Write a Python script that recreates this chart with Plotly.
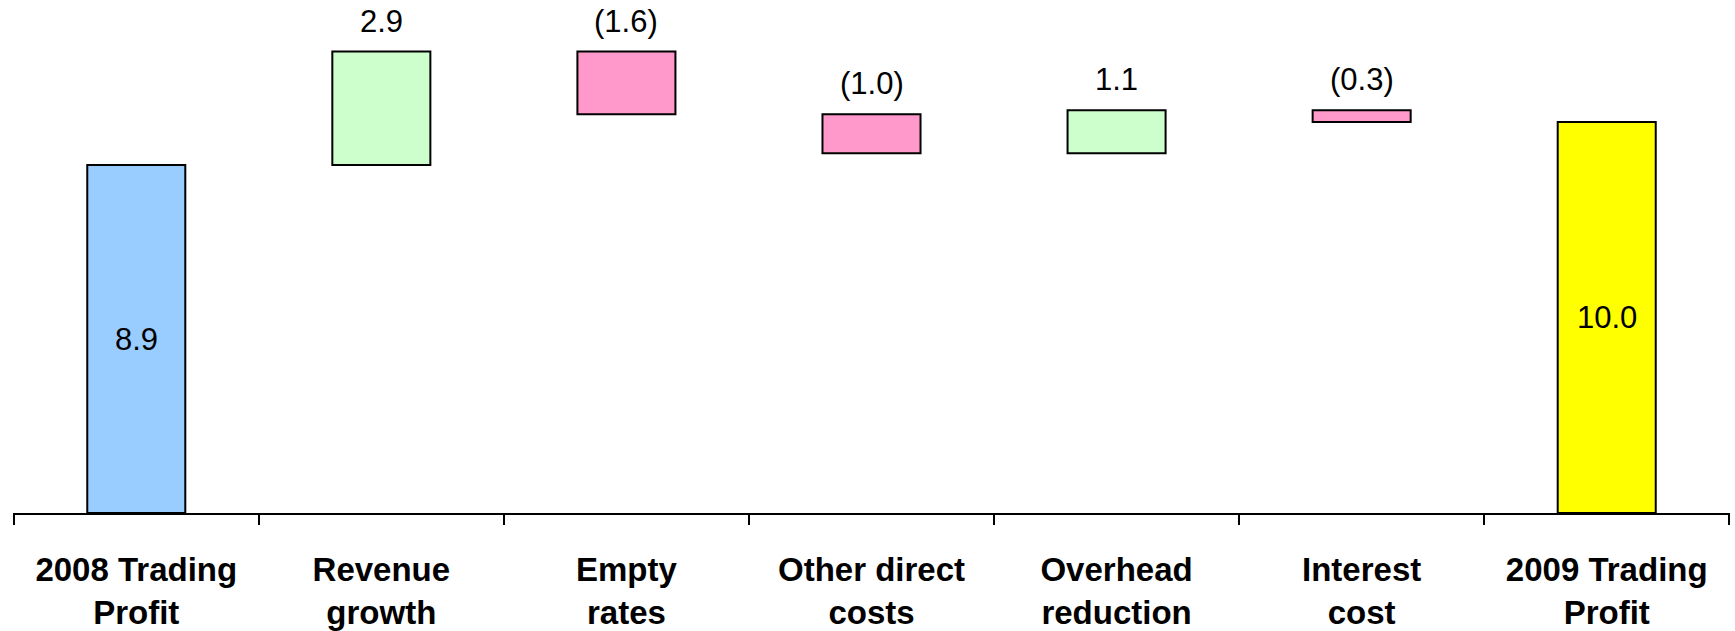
import plotly.graph_objects as go

categories = ["2008 Trading<br>Profit", "Revenue<br>growth", "Empty<br>rates",
              "Other direct<br>costs", "Overhead<br>reduction", "Interest<br>cost",
              "2009 Trading<br>Profit"]
kinds = ["total", "delta", "delta", "delta", "delta", "delta", "total"]
values = [8.9, 2.9, -1.6, -1.0, 1.1, -0.3, 10.0]
labels = ["8.9", "2.9", "(1.6)", "(1.0)", "1.1", "(0.3)", "10.0"]
total_colors = ["#99CCFF", "#FFFF00"]
up_color = "#CCFFCC"
down_color = "#FF99CC"

# compute bases and heights from the data
bases, heights, colors = [], [], []
running = 0.0
ti = 0
for k, v in zip(kinds, values):
    if k == "total":
        bases.append(0.0)
        heights.append(v)
        colors.append(total_colors[ti])
        ti += 1
        running = v
    else:
        new = running + v
        lo, hi = min(running, new), max(running, new)
        bases.append(lo)
        heights.append(hi - lo)
        colors.append(up_color if v > 0 else down_color)
        running = new

fig = go.Figure()
fig.add_trace(go.Bar(
    x=categories, y=heights, base=bases, width=0.4,
    marker=dict(color=colors, line=dict(color="black", width=2)),
    hoverinfo="skip", showlegend=False,
))

FONT = "Liberation Sans, Arial, sans-serif"
annotations = []
for i, (k, b, h, lab) in enumerate(zip(kinds, bases, heights, labels)):
    if k == "total":
        annotations.append(dict(x=i, y=b + h / 2, text=lab, showarrow=False,
                                xanchor="center", yanchor="middle",
                                font=dict(family=FONT, size=31, color="black")))
    else:
        annotations.append(dict(x=i, y=b + h, text=lab, showarrow=False,
                                xanchor="center", yanchor="bottom", yshift=11,
                                font=dict(family=FONT, size=31, color="black")))

fig.update_layout(
    width=1735, height=631,
    margin=dict(l=13, r=5, t=0, b=118),
    paper_bgcolor="white", plot_bgcolor="white",
    bargap=0.6,
    annotations=annotations,
    xaxis=dict(
        type="category",
        range=[-0.503, len(categories) - 0.497],
        showline=True, linecolor="black", linewidth=2,
        ticks="outside", ticklen=10, tickwidth=2, tickcolor="black",
        tickson="boundaries", showgrid=False, zeroline=False,
        ticklabelstandoff=26,
        tickfont=dict(family=FONT, size=33, color="black", weight="bold"),
    ),
    yaxis=dict(range=[0, 13.12], visible=False, showgrid=False, zeroline=False),
)

fig.write_html("out.html", config={"displayModeBar": False},
               post_script="document.body.style.margin='0';document.body.style.overflow='hidden';")
